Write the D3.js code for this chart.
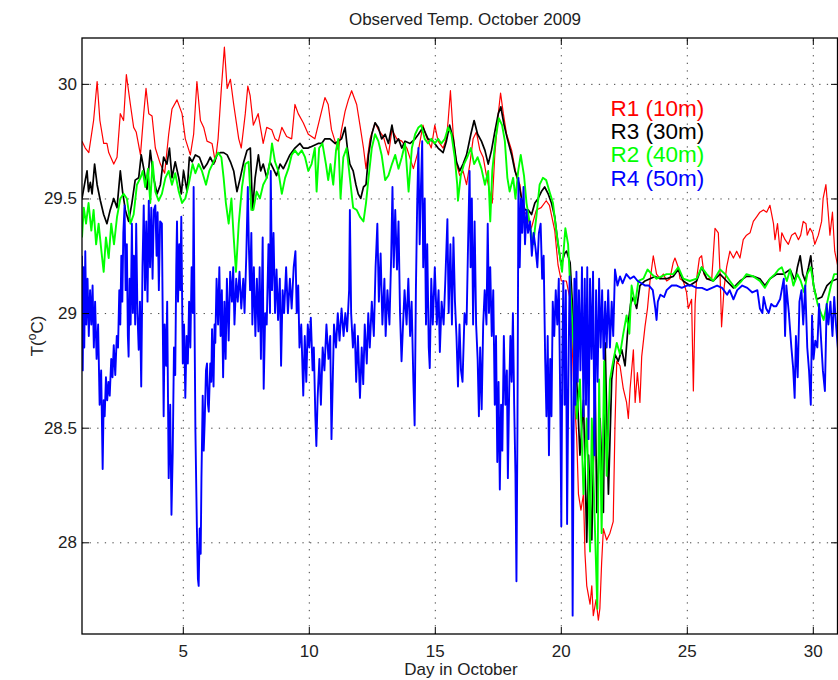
<!DOCTYPE html>
<html>
<head>
<meta charset="utf-8">
<script src="https://cdn.jsdelivr.net/npm/d3@7"></script>
<style>
  body { margin: 0; background: #fff; }
  svg { font-family: "Liberation Sans", Arial, Helvetica, sans-serif; }
  .grid line { stroke: #444; stroke-width: 1; stroke-dasharray: 1.3,6.3; }
  .grid path { display: none; }
  .tk line { stroke: #000; stroke-width: 1; }
  .tk path { display: none; }
  .tk text { font-size: 17px; fill: #222; }
</style>
</head>
<body>
<svg id="chart" width="838" height="680"></svg>
<script>
var xTicks = [5, 10, 15, 20, 25, 30];
var yTicks = [28, 28.5, 29, 29.5, 30];
var seriesNames = ["R1 (10m)", "R3 (30m)", "R2 (40m)", "R4 (50m)"];
var seriesColors = ["#ff0000", "#000000", "#00ff00", "#0000ff"];

// [day, temperature]
var r1 = [[1.00,29.75],[1.13,29.72],[1.27,29.70],[1.46,29.84],[1.60,30.01],[1.71,29.84],[1.86,29.74],[1.99,29.74],[2.06,29.70],[2.26,29.65],[2.39,29.68],[2.52,29.87],[2.65,29.84],[2.76,30.04],[2.92,29.91],[3.05,29.81],[3.15,29.79],[3.32,29.69],[3.45,29.87],[3.54,29.98],[3.65,29.87],[3.78,29.86],[3.91,29.72],[4.11,29.65],[4.28,29.61],[4.44,29.78],[4.57,29.89],[4.77,29.93],[4.97,29.87],[5.10,29.76],[5.30,29.69],[5.43,29.78],[5.56,30.01],[5.70,29.84],[5.83,29.81],[5.96,29.75],[6.16,29.74],[6.29,29.66],[6.40,29.76],[6.53,29.98],[6.65,30.16],[6.76,29.98],[6.89,30.02],[7.02,29.91],[7.22,29.76],[7.32,29.72],[7.48,29.87],[7.58,29.99],[7.67,29.95],[7.80,29.82],[7.99,29.87],[8.19,29.74],[8.33,29.81],[8.53,29.80],[8.66,29.76],[8.79,29.75],[8.93,29.81],[9.12,29.77],[9.32,29.76],[9.45,29.91],[9.58,29.87],[9.78,29.83],[9.98,29.78],[10.24,29.76],[10.44,29.85],[10.64,29.94],[10.77,29.91],[10.90,29.80],[11.04,29.75],[11.17,29.71],[11.30,29.80],[11.44,29.88],[11.57,29.93],[11.70,29.97],[11.90,29.91],[12.03,29.82],[12.17,29.72],[12.27,29.63],[12.43,29.76],[12.63,29.83],[12.76,29.80],[12.96,29.77],[13.16,29.69],[13.30,29.80],[13.49,29.76],[13.69,29.75],[13.89,29.72],[14.15,29.63],[14.35,29.71],[14.53,29.82],[14.66,29.77],[14.86,29.72],[15.00,29.82],[15.13,29.75],[15.33,29.72],[15.46,29.76],[15.53,29.84],[15.62,29.97],[15.73,29.78],[15.86,29.65],[15.99,29.60],[16.12,29.62],[16.26,29.56],[16.39,29.65],[16.52,29.76],[16.65,29.79],[16.79,29.71],[16.92,29.68],[17.05,29.60],[17.18,29.53],[17.28,29.48],[17.38,29.69],[17.52,29.87],[17.61,29.96],[17.72,29.87],[17.85,29.78],[18.05,29.71],[18.25,29.59],[18.38,29.56],[18.50,29.45],[18.64,29.43],[18.83,29.37],[19.03,29.45],[19.22,29.46],[19.42,29.49],[19.55,29.47],[19.76,29.36],[19.89,29.21],[20.02,29.14],[20.22,29.14],[20.35,29.07],[20.43,28.94],[20.50,28.71],[20.63,28.46],[20.70,28.21],[20.80,28.14],[20.90,28.21],[20.96,27.95],[21.03,27.81],[21.16,27.73],[21.23,27.81],[21.29,27.68],[21.40,27.75],[21.49,27.66],[21.55,27.71],[21.62,27.91],[21.69,28.06],[21.82,28.01],[21.95,28.04],[22.08,28.09],[22.15,28.51],[22.22,28.79],[22.35,28.77],[22.48,28.67],[22.61,28.61],[22.68,28.54],[22.75,28.67],[22.88,28.84],[22.95,28.61],[23.04,28.74],[23.14,28.61],[23.21,28.81],[23.34,28.94],[23.44,29.02],[23.54,29.14],[23.67,29.25],[23.80,29.17],[23.94,29.15],[24.07,29.17],[24.20,29.14],[24.33,29.15],[24.46,29.22],[24.53,29.24],[24.66,29.20],[24.73,29.15],[24.86,29.14],[24.99,29.09],[25.06,29.02],[25.19,29.06],[25.26,28.66],[25.33,29.04],[25.39,29.15],[25.50,29.24],[25.59,29.25],[25.68,29.17],[25.79,29.15],[25.99,29.15],[26.12,29.37],[26.25,29.35],[26.32,29.17],[26.38,28.94],[26.48,29.11],[26.58,29.20],[26.71,29.27],[26.85,29.24],[26.98,29.27],[27.11,29.24],[27.24,29.32],[27.37,29.34],[27.51,29.35],[27.64,29.40],[27.77,29.42],[27.90,29.44],[28.04,29.45],[28.17,29.44],[28.30,29.47],[28.44,29.39],[28.50,29.32],[28.60,29.39],[28.70,29.27],[28.77,29.35],[28.90,29.32],[29.03,29.30],[29.16,29.34],[29.30,29.35],[29.43,29.32],[29.52,29.34],[29.62,29.40],[29.73,29.39],[29.78,29.34],[29.89,29.37],[29.99,29.35],[30.08,29.30],[30.22,29.34],[30.35,29.40],[30.41,29.50],[30.52,29.56],[30.61,29.44],[30.68,29.34],[30.78,29.44],[30.87,29.27],[31.00,29.20]];

var r3 = [[1.00,29.50],[1.13,29.58],[1.20,29.62],[1.26,29.53],[1.33,29.57],[1.40,29.52],[1.50,29.65],[1.60,29.56],[1.73,29.49],[1.86,29.43],[1.99,29.39],[2.12,29.45],[2.26,29.50],[2.39,29.46],[2.52,29.62],[2.61,29.53],[2.72,29.45],[2.85,29.40],[2.98,29.48],[3.11,29.58],[3.25,29.59],[3.35,29.69],[3.45,29.63],[3.58,29.54],[3.71,29.71],[3.84,29.59],[3.98,29.52],[4.11,29.56],[4.24,29.68],[4.37,29.65],[4.47,29.72],[4.57,29.59],[4.70,29.66],[4.84,29.59],[4.94,29.52],[5.03,29.62],[5.17,29.53],[5.26,29.68],[5.37,29.66],[5.50,29.69],[5.66,29.68],[5.83,29.63],[5.96,29.65],[6.09,29.68],[6.22,29.65],[6.36,29.69],[6.49,29.70],[6.62,29.70],[6.76,29.69],[6.89,29.66],[7.02,29.62],[7.15,29.53],[7.28,29.59],[7.42,29.66],[7.55,29.71],[7.68,29.72],[7.77,29.45],[7.87,29.59],[8.00,29.69],[8.09,29.62],[8.19,29.65],[8.33,29.59],[8.46,29.66],[8.59,29.63],[8.72,29.60],[8.86,29.65],[8.99,29.63],[9.12,29.66],[9.25,29.69],[9.45,29.72],[9.65,29.74],[9.78,29.72],[9.98,29.72],[10.18,29.73],[10.37,29.74],[10.51,29.74],[10.64,29.76],[10.84,29.76],[11.04,29.74],[11.17,29.75],[11.30,29.76],[11.44,29.81],[11.53,29.72],[11.63,29.65],[11.76,29.62],[11.87,29.56],[11.96,29.52],[12.06,29.50],[12.17,29.55],[12.27,29.56],[12.37,29.69],[12.50,29.78],[12.63,29.83],[12.76,29.81],[12.89,29.76],[13.03,29.78],[13.16,29.74],[13.30,29.82],[13.43,29.74],[13.56,29.76],[13.69,29.72],[13.82,29.75],[14.02,29.74],[14.22,29.76],[14.35,29.78],[14.53,29.81],[14.73,29.76],[14.93,29.75],[15.13,29.72],[15.33,29.70],[15.46,29.75],[15.59,29.82],[15.73,29.76],[15.86,29.66],[15.99,29.62],[16.12,29.65],[16.26,29.69],[16.43,29.78],[16.56,29.84],[16.70,29.78],[16.85,29.75],[16.99,29.71],[17.12,29.65],[17.25,29.71],[17.38,29.79],[17.52,29.87],[17.62,29.90],[17.75,29.82],[17.88,29.76],[18.05,29.69],[18.18,29.62],[18.31,29.58],[18.44,29.50],[18.58,29.45],[18.71,29.45],[18.84,29.43],[18.97,29.48],[19.10,29.50],[19.23,29.53],[19.36,29.55],[19.50,29.52],[19.63,29.48],[19.76,29.42],[19.89,29.30],[20.02,29.21],[20.15,29.26],[20.23,29.27],[20.37,29.22],[20.50,28.96],[20.63,28.71],[20.76,28.38],[20.90,28.62],[21.03,28.00],[21.10,28.38],[21.23,28.01],[21.36,28.71],[21.43,28.13],[21.56,28.54],[21.69,28.13],[21.76,28.87],[21.89,28.21],[22.02,28.71],[22.15,28.82],[22.28,28.79],[22.42,28.84],[22.55,28.77],[22.68,28.96],[22.77,29.04],[22.88,29.07],[23.01,29.02],[23.14,29.12],[23.34,29.14],[23.54,29.15],[23.74,29.16],[23.94,29.15],[24.20,29.15],[24.46,29.16],[24.66,29.19],[24.86,29.14],[25.12,29.12],[25.39,29.14],[25.59,29.20],[25.79,29.15],[26.05,29.14],[26.32,29.17],[26.58,29.14],[26.85,29.11],[27.11,29.14],[27.37,29.16],[27.64,29.16],[27.90,29.15],[28.10,29.12],[28.30,29.15],[28.57,29.17],[28.83,29.17],[29.10,29.19],[29.30,29.14],[29.39,29.20],[29.50,29.25],[29.60,29.17],[29.70,29.14],[29.83,29.20],[29.92,29.25],[30.03,29.12],[30.16,29.06],[30.36,29.07],[30.56,29.12],[30.76,29.14],[31.00,29.15]];

var r2 = [[1.00,29.33],[1.07,29.46],[1.16,29.39],[1.26,29.48],[1.37,29.36],[1.46,29.45],[1.56,29.30],[1.66,29.39],[1.77,29.27],[1.86,29.18],[1.95,29.33],[2.06,29.24],[2.16,29.39],[2.27,29.30],[2.39,29.42],[2.52,29.50],[2.65,29.52],[2.78,29.50],[2.92,29.39],[3.05,29.43],[3.18,29.56],[3.32,29.59],[3.41,29.62],[3.51,29.55],[3.62,29.63],[3.71,29.48],[3.80,29.66],[3.91,29.53],[4.04,29.49],[4.17,29.52],[4.31,29.59],[4.44,29.62],[4.57,29.56],[4.70,29.61],[4.84,29.53],[4.97,29.48],[5.10,29.50],[5.23,29.56],[5.39,29.65],[5.50,29.61],[5.63,29.65],[5.76,29.62],[5.92,29.56],[6.05,29.62],[6.22,29.66],[6.40,29.70],[6.53,29.68],[6.62,29.59],[6.71,29.48],[6.82,29.39],[6.93,29.50],[7.02,29.33],[7.11,29.18],[7.22,29.39],[7.35,29.55],[7.48,29.65],[7.61,29.66],[7.72,29.45],[7.80,29.45],[7.93,29.53],[8.06,29.50],[8.19,29.56],[8.33,29.59],[8.46,29.66],[8.54,29.74],[8.66,29.66],[8.79,29.62],[8.93,29.52],[9.06,29.59],[9.19,29.63],[9.32,29.69],[9.45,29.71],[9.58,29.69],[9.72,29.71],[9.85,29.68],[9.98,29.62],[10.11,29.65],[10.24,29.72],[10.31,29.53],[10.41,29.72],[10.54,29.74],[10.68,29.65],[10.77,29.58],[10.86,29.65],[10.97,29.56],[11.08,29.71],[11.17,29.76],[11.26,29.50],[11.37,29.68],[11.50,29.72],[11.63,29.59],[11.76,29.46],[11.90,29.45],[12.03,29.42],[12.17,29.40],[12.27,29.48],[12.37,29.59],[12.50,29.72],[12.63,29.78],[12.76,29.75],[12.89,29.69],[13.03,29.58],[13.16,29.60],[13.30,29.65],[13.43,29.69],[13.56,29.63],[13.69,29.68],[13.82,29.74],[13.96,29.53],[14.09,29.72],[14.22,29.78],[14.35,29.81],[14.46,29.82],[14.60,29.76],[14.73,29.74],[14.86,29.76],[15.00,29.74],[15.13,29.76],[15.26,29.74],[15.40,29.76],[15.53,29.81],[15.66,29.78],[15.79,29.68],[15.89,29.56],[15.92,29.49],[16.03,29.60],[16.16,29.65],[16.29,29.68],[16.43,29.72],[16.56,29.65],[16.70,29.68],[16.85,29.63],[16.99,29.56],[17.12,29.62],[17.20,29.40],[17.28,29.62],[17.41,29.76],[17.54,29.85],[17.67,29.82],[17.78,29.75],[17.88,29.59],[17.97,29.53],[18.11,29.59],[18.20,29.50],[18.31,29.62],[18.41,29.69],[18.54,29.60],[18.64,29.48],[18.77,29.39],[18.90,29.30],[19.03,29.42],[19.16,29.56],[19.29,29.59],[19.42,29.58],[19.55,29.53],[19.69,29.48],[19.82,29.36],[19.95,29.26],[20.05,29.18],[20.18,29.37],[20.29,29.30],[20.37,29.12],[20.50,28.87],[20.63,28.54],[20.76,28.71],[20.90,28.21],[21.03,28.54],[21.16,27.96],[21.23,28.54],[21.36,28.04],[21.45,27.71],[21.52,28.71],[21.62,28.04],[21.72,28.79],[21.82,28.29],[21.95,28.71],[22.08,28.79],[22.22,28.87],[22.35,28.82],[22.48,28.91],[22.61,28.99],[22.72,28.91],[22.81,29.12],[22.95,29.04],[23.08,29.14],[23.28,29.15],[23.44,29.19],[23.61,29.17],[23.80,29.15],[24.00,29.16],[24.20,29.17],[24.46,29.17],[24.66,29.20],[24.86,29.15],[25.12,29.14],[25.39,29.15],[25.59,29.20],[25.79,29.17],[26.05,29.14],[26.32,29.19],[26.52,29.17],[26.71,29.14],[26.91,29.11],[27.17,29.14],[27.37,29.17],[27.64,29.16],[27.90,29.14],[28.10,29.11],[28.30,29.15],[28.50,29.17],[28.64,29.19],[28.77,29.20],[28.97,29.14],[29.10,29.19],[29.23,29.12],[29.39,29.17],[29.52,29.14],[29.66,29.09],[29.78,29.17],[29.92,29.20],[30.05,29.11],[30.19,29.04],[30.29,29.01],[30.43,28.97],[30.56,29.04],[30.72,29.12],[30.85,29.17],[31.00,29.17]];

var r4 = [[1.00,29.25],[1.03,28.75],[1.06,29.20],[1.09,28.85],[1.13,29.27],[1.17,28.95],[1.22,29.15],[1.27,28.90],[1.32,29.10],[1.37,28.95],[1.42,29.12],[1.47,28.85],[1.52,29.05],[1.58,28.80],[1.64,28.95],[1.70,28.60],[1.76,28.75],[1.82,28.32],[1.86,28.62],[1.90,28.55],[1.95,28.72],[2.00,28.62],[2.05,28.70],[2.10,28.64],[2.16,28.80],[2.21,28.72],[2.26,28.86],[2.32,28.73],[2.38,28.90],[2.43,28.85],[2.48,29.10],[2.52,28.95],[2.56,29.25],[2.60,29.05],[2.64,29.35],[2.69,29.47],[2.73,29.10],[2.78,29.30],[2.82,28.90],[2.85,28.81],[2.89,29.15],[2.93,28.95],[2.98,29.39],[3.02,29.00],[3.06,29.25],[3.11,28.95],[3.15,29.39],[3.20,29.00],[3.25,28.84],[3.30,29.05],[3.35,28.68],[3.40,29.20],[3.45,29.47],[3.50,29.10],[3.55,29.40],[3.60,29.05],[3.65,29.49],[3.70,29.20],[3.75,29.46],[3.80,29.15],[3.85,29.45],[3.91,29.47],[3.96,29.25],[4.00,29.44],[4.05,29.10],[4.10,29.40],[4.17,29.39],[4.21,28.90],[4.24,28.55],[4.28,28.95],[4.34,28.77],[4.38,29.05],[4.44,28.28],[4.50,28.60],[4.55,28.12],[4.60,28.39],[4.65,28.85],[4.70,28.73],[4.74,29.20],[4.77,29.40],[4.81,29.05],[4.86,29.30],[4.90,29.10],[4.94,29.42],[4.98,29.00],[5.00,28.78],[5.05,28.95],[5.10,28.63],[5.15,28.90],[5.20,28.78],[5.25,29.05],[5.30,28.85],[5.35,29.20],[5.40,29.00],[5.43,29.55],[5.47,28.90],[5.50,28.49],[5.54,28.20],[5.56,28.06],[5.60,27.84],[5.63,27.81],[5.67,28.06],[5.71,27.95],[5.74,28.28],[5.79,28.64],[5.83,28.40],[5.87,28.53],[5.92,28.75],[5.96,28.78],[6.00,28.60],[6.03,28.57],[6.09,28.78],[6.13,28.70],[6.16,28.93],[6.22,28.68],[6.26,28.95],[6.29,28.87],[6.34,29.15],[6.40,28.95],[6.45,29.20],[6.50,28.90],[6.55,29.10],[6.60,28.72],[6.65,29.05],[6.70,28.80],[6.75,29.15],[6.82,28.88],[6.88,29.18],[6.95,29.05],[7.00,29.20],[7.05,28.95],[7.12,29.15],[7.18,29.05],[7.25,29.18],[7.32,29.02],[7.40,29.15],[7.45,29.00],[7.52,29.25],[7.58,29.55],[7.62,29.30],[7.67,29.10],[7.72,29.35],[7.76,28.95],[7.82,29.20],[7.88,28.90],[7.94,29.15],[8.00,28.92],[8.05,29.20],[8.10,28.80],[8.17,29.33],[8.21,28.67],[8.27,29.00],[8.33,28.95],[8.40,29.30],[8.46,29.00],[8.49,29.62],[8.54,29.10],[8.60,29.35],[8.66,29.00],[8.72,29.19],[8.78,28.97],[8.85,29.15],[8.90,28.77],[8.96,29.10],[9.02,29.00],[9.10,29.20],[9.17,29.00],[9.25,29.15],[9.32,29.02],[9.40,29.20],[9.47,29.27],[9.52,29.00],[9.58,29.12],[9.63,28.85],[9.70,28.95],[9.78,28.64],[9.84,28.90],[9.90,28.70],[9.96,28.95],[10.02,28.85],[10.08,28.98],[10.15,28.75],[10.20,28.85],[10.26,28.55],[10.30,28.42],[10.35,28.63],[10.42,28.80],[10.48,28.60],[10.55,28.85],[10.62,28.75],[10.70,28.95],[10.78,28.80],[10.85,28.90],[10.90,28.45],[10.95,28.70],[11.00,28.95],[11.08,28.85],[11.15,29.00],[11.22,28.88],[11.30,29.02],[11.38,28.90],[11.45,29.00],[11.52,28.92],[11.60,29.10],[11.63,29.45],[11.68,29.00],[11.75,28.85],[11.82,28.95],[11.88,28.70],[11.95,28.90],[12.03,28.63],[12.10,28.85],[12.16,28.69],[12.22,28.95],[12.30,28.78],[12.36,29.00],[12.42,28.85],[12.50,29.05],[12.58,28.90],[12.65,29.20],[12.72,29.39],[12.78,29.05],[12.85,29.26],[12.92,28.95],[13.00,29.15],[13.05,28.90],[13.12,29.10],[13.20,28.95],[13.27,29.25],[13.32,29.55],[13.37,29.20],[13.43,29.45],[13.50,29.19],[13.56,29.40],[13.62,29.00],[13.68,28.79],[13.74,28.95],[13.80,29.10],[13.88,28.95],[13.95,29.15],[14.02,28.90],[14.08,29.05],[14.15,28.70],[14.20,28.51],[14.25,29.10],[14.30,29.47],[14.35,29.72],[14.40,29.30],[14.45,29.55],[14.50,29.75],[14.54,29.20],[14.60,29.50],[14.65,28.95],[14.70,29.30],[14.76,28.85],[14.80,28.76],[14.86,29.15],[14.92,28.95],[15.00,29.20],[15.08,28.95],[15.15,29.10],[15.20,28.83],[15.27,29.05],[15.35,28.95],[15.42,29.15],[15.50,29.41],[15.55,29.00],[15.62,29.30],[15.68,28.95],[15.74,29.33],[15.80,29.05],[15.86,28.90],[15.92,28.68],[15.98,28.95],[16.04,28.75],[16.10,28.70],[16.18,29.00],[16.26,28.95],[16.32,29.30],[16.38,29.62],[16.42,29.20],[16.47,29.50],[16.52,28.95],[16.58,29.40],[16.64,28.95],[16.70,28.80],[16.75,28.55],[16.80,28.85],[16.86,28.58],[16.92,28.95],[16.98,29.10],[17.05,28.95],[17.10,29.39],[17.15,29.00],[17.20,29.20],[17.26,28.90],[17.32,29.10],[17.38,28.60],[17.43,28.90],[17.48,28.35],[17.53,28.70],[17.58,28.23],[17.63,28.60],[17.68,28.40],[17.74,28.90],[17.80,28.60],[17.86,28.75],[17.90,28.28],[17.95,28.65],[18.00,28.90],[18.05,28.70],[18.10,29.00],[18.15,28.60],[18.20,28.30],[18.24,27.83],[18.28,28.50],[18.32,29.59],[18.37,29.20],[18.42,29.50],[18.47,29.35],[18.52,29.55],[18.58,29.30],[18.64,29.45],[18.70,29.35],[18.78,29.40],[18.85,29.25],[18.92,29.35],[19.00,29.28],[19.07,29.20],[19.13,29.35],[19.20,29.39],[19.26,29.15],[19.32,29.25],[19.38,28.80],[19.43,28.55],[19.48,28.90],[19.53,28.38],[19.58,28.80],[19.63,28.55],[19.68,29.05],[19.74,28.90],[19.80,29.10],[19.86,28.95],[19.92,29.15],[19.98,28.60],[20.02,28.07],[20.06,28.80],[20.10,29.14],[20.15,28.60],[20.20,29.10],[20.25,28.08],[20.30,28.70],[20.35,29.16],[20.40,28.90],[20.44,28.40],[20.47,27.68],[20.50,28.30],[20.54,29.15],[20.58,28.60],[20.62,29.18],[20.67,28.70],[20.72,29.10],[20.78,28.75],[20.84,29.20],[20.90,28.55],[20.95,29.15],[21.00,28.60],[21.05,29.20],[21.10,28.45],[21.16,29.15],[21.22,28.80],[21.28,29.18],[21.34,28.38],[21.40,29.10],[21.46,28.70],[21.52,29.15],[21.58,28.85],[21.64,29.10],[21.70,28.80],[21.76,29.05],[21.82,28.85],[21.88,29.10],[21.95,28.85],[22.02,29.05],[22.08,28.90],[22.15,29.19],[22.25,29.12],[22.35,29.16],[22.45,29.13],[22.60,29.17],[22.75,29.15],[22.90,29.16],[23.05,29.14],[23.20,29.13],[23.35,29.12],[23.50,29.12],[23.65,29.10],[23.75,29.02],[23.80,28.97],[23.85,29.05],[23.95,29.08],[24.10,29.07],[24.20,29.10],[24.40,29.12],[24.60,29.12],[24.80,29.11],[25.00,29.12],[25.20,29.12],[25.40,29.11],[25.60,29.11],[25.80,29.10],[26.00,29.11],[26.20,29.12],[26.40,29.11],[26.60,29.08],[26.70,29.10],[26.85,29.06],[27.00,29.10],[27.20,29.12],[27.40,29.11],[27.60,29.09],[27.80,29.10],[27.90,29.02],[28.00,29.00],[28.05,29.07],[28.15,29.02],[28.25,29.00],[28.35,29.04],[28.45,29.03],[28.55,29.03],[28.70,29.06],[28.85,29.15],[28.90,28.90],[28.95,29.12],[29.05,29.00],[29.15,28.85],[29.22,28.76],[29.28,28.63],[29.33,28.90],[29.40,28.72],[29.47,29.05],[29.55,29.10],[29.62,28.95],[29.70,29.12],[29.78,28.85],[29.85,28.75],[29.92,28.60],[29.97,28.99],[30.03,28.80],[30.10,28.88],[30.18,28.85],[30.25,29.04],[30.32,28.90],[30.40,28.75],[30.48,28.66],[30.55,29.04],[30.62,28.95],[30.70,29.05],[30.78,28.90],[30.85,29.07],[30.92,28.95],[31.00,28.84]];

var seriesData = [r1, r3, r2, r4];
var seriesWidths = [1.2, 1.7, 1.9, 1.9];

var svg = d3.select("#chart"),
  margin = {top: 38, right: 0, bottom: 46, left: 82},
  width = +svg.attr("width") - margin.left - margin.right,
  height = +svg.attr("height") - margin.top - margin.bottom;

var x = d3.scaleLinear().domain([1, 31]).range([margin.left, margin.left + width]);
var y = d3.scaleLinear().domain([27.6, 30.2]).range([margin.top + height, margin.top]);

// dotted grid
svg.append("g")
  .attr("class", "grid")
  .attr("transform", "translate(0," + (margin.top + height) + ")")
  .call(d3.axisBottom(x).tickValues(xTicks).tickSize(-height).tickFormat(""));

svg.append("g")
  .attr("class", "grid")
  .attr("transform", "translate(" + margin.left + ",0)")
  .call(d3.axisLeft(y).tickValues(yTicks).tickSize(-width).tickFormat(""));

svg.append("clipPath").attr("id", "clip")
  .append("rect")
  .attr("x", margin.left).attr("y", margin.top)
  .attr("width", width).attr("height", height);

var line = d3.line()
  .x(d => x(d[0]))
  .y(d => y(d[1]));

svg.append("g")
  .attr("clip-path", "url(#clip)")
  .selectAll("path")
  .data(seriesData)
  .enter().append("path")
  .attr("d", d => line(d))
  .attr("fill", "none")
  .attr("stroke", (d, i) => seriesColors[i])
  .attr("stroke-width", (d, i) => seriesWidths[i])
  .attr("stroke-linejoin", "round");

// inward ticks on all four sides, MATLAB style labels (30, not 30.0)
var fmt = d => String(d);

svg.append("g")
  .attr("class", "tk")
  .attr("transform", "translate(0," + (margin.top + height) + ")")
  .call(d3.axisBottom(x).tickValues(xTicks).tickFormat(fmt).tickSize(-7).tickPadding(11));

svg.append("g")
  .attr("class", "tk")
  .attr("transform", "translate(" + margin.left + ",0)")
  .call(d3.axisLeft(y).tickValues(yTicks).tickFormat(fmt).tickSize(-7).tickPadding(5));

svg.append("g")
  .attr("class", "tk")
  .attr("transform", "translate(0," + margin.top + ")")
  .call(d3.axisTop(x).tickValues(xTicks).tickSize(-7).tickFormat(""));

svg.append("g")
  .attr("class", "tk")
  .attr("transform", "translate(" + (margin.left + width) + ",0)")
  .call(d3.axisRight(y).tickValues(yTicks).tickSize(-7).tickFormat(""));

svg.append("rect")
  .attr("x", margin.left).attr("y", margin.top)
  .attr("width", width - 0.5).attr("height", height)
  .attr("fill", "none")
  .attr("stroke", "#000")
  .attr("stroke-width", 1.3);

// title and labels
svg.append("text")
  .attr("x", 465)
  .attr("y", 25)
  .attr("text-anchor", "middle")
  .style("font-size", "17px")
  .style("fill", "#222")
  .text("Observed Temp. October 2009");

svg.append("text")
  .attr("x", 461)
  .attr("y", 675)
  .attr("text-anchor", "middle")
  .style("font-size", "17px")
  .style("fill", "#222")
  .text("Day in October");

var yl = svg.append("text")
  .attr("transform", "translate(43," + (margin.top + height / 2) + ") rotate(-90)")
  .attr("text-anchor", "middle")
  .style("font-size", "17px")
  .style("fill", "#222");
yl.append("tspan").text("T(");
yl.append("tspan").attr("dy", -7).style("font-size", "12px").text("o");
yl.append("tspan").attr("dy", 7).text("C)");

// legend
svg.selectAll(".legend")
  .data(seriesNames)
  .enter().append("text")
  .attr("class", "legend")
  .attr("x", 610.5)
  .attr("y", (d, i) => 115.5 + i * 23.4)
  .style("font-size", "22.5px")
  .style("fill", (d, i) => seriesColors[i])
  .text(d => d);
</script>
</body>
</html>
